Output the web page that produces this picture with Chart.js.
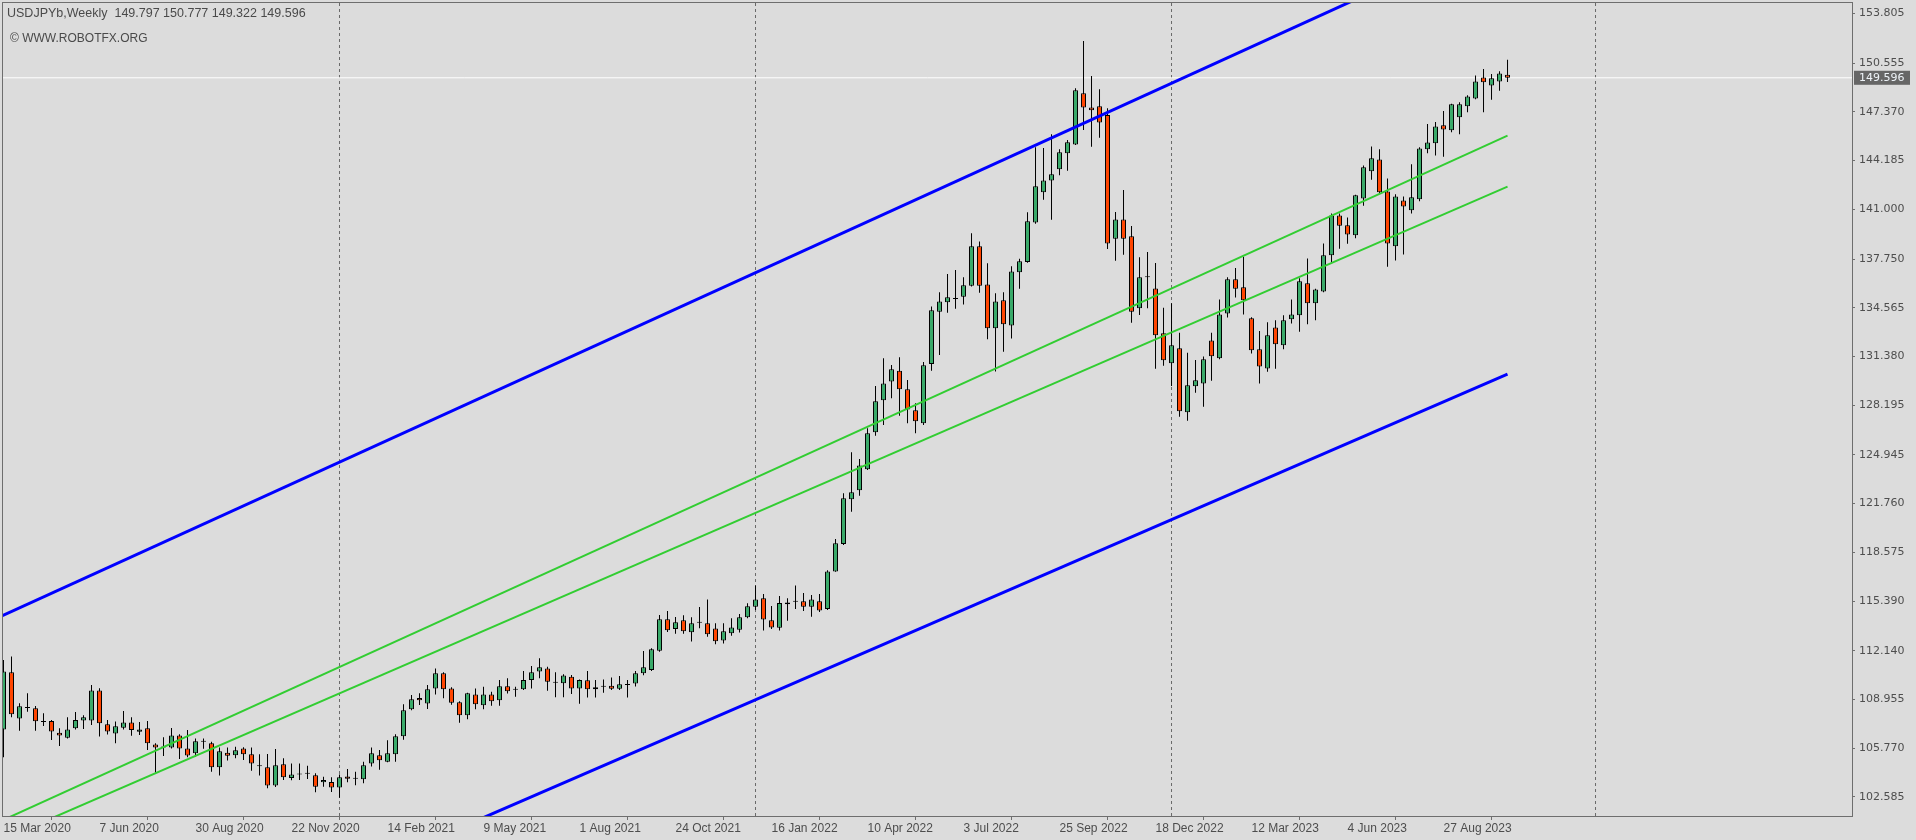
<!DOCTYPE html>
<html lang="en">
<head>
<meta charset="UTF-8">
<title>USDJPYb, Weekly</title>
<script src="https://cdn.jsdelivr.net/npm/chart.js@4.4.1/dist/chart.umd.min.js"></script>
<style>
    html, body {
        margin: 0;
        padding: 0;
        background: #dcdcdc;
    }
    .chart-box {
        width: 1916px;
        height: 840px;
        position: relative;
    }
</style>
</head>
<body>
<div class="chart-box"><canvas id="chart"></canvas></div>
<script>
const symbol = 'USDJPYb,Weekly';
const watermark = '\u00A9 WWW.ROBOTFX.ORG';

// one weekly bar per entry, first bar = week of 15 Mar 2020
const opens = [
    107.00, 110.73, 107.72, 108.45, 108.38, 107.53, 107.55, 106.79, 106.46, 107.07,
    107.59, 107.59, 109.55, 107.33, 106.74, 107.11, 107.46, 106.85, 107.07, 106.02,
    105.81, 105.81, 106.61, 105.76, 105.44, 106.22, 106.09, 104.52, 105.48, 105.31,
    105.76, 105.37, 104.63, 104.52, 103.34, 104.72, 103.83, 104.05, 104.10, 104.00,
    103.54, 103.56, 103.21, 103.93, 103.78, 103.74, 104.78, 105.31, 104.89, 105.37,
    106.55, 108.31, 109.05, 108.70, 109.68, 110.67, 109.68, 108.77, 107.92, 109.29,
    108.58, 109.29, 108.90, 109.82, 109.59, 109.62, 110.23, 110.78, 110.99, 110.06,
    110.01, 110.45, 109.68, 110.21, 109.62, 109.79, 109.86, 109.66, 109.90, 110.00,
    110.67, 110.88, 112.15, 114.20, 113.57, 114.13, 113.35, 113.98, 113.94, 113.59,
    112.82, 113.28, 113.52, 114.33, 115.02, 115.57, 114.13, 113.65, 115.30, 115.35,
    115.37, 115.02, 115.37, 114.87, 117.33, 119.12, 122.04, 122.63, 124.00, 126.42,
    128.51, 129.75, 130.45, 129.23, 127.86, 127.01, 130.89, 134.31, 134.92, 135.14,
    135.28, 136.01, 138.58, 136.09, 133.22, 135.05, 133.41, 136.88, 137.55, 140.13,
    142.11, 142.89, 143.61, 144.66, 145.24, 148.58, 147.66, 147.73, 147.16, 139.08,
    140.34, 139.23, 134.53, 136.55, 135.83, 132.89, 130.93, 131.91, 127.73, 129.43,
    129.62, 132.43, 131.26, 134.18, 136.42, 135.90, 133.87, 131.85, 130.60, 133.28,
    132.11, 133.81, 134.07, 136.16, 134.85, 135.63, 137.99, 140.60, 139.95, 139.30,
    141.71, 143.48, 144.26, 142.17, 138.58, 141.58, 140.93, 141.65, 144.92, 145.31,
    146.49, 146.16, 147.01, 147.73, 148.25, 149.62, 149.10, 149.36, 149.797
];
const highs = [
    111.54, 111.76, 108.71, 109.36, 108.53, 108.05, 107.62, 107.07, 107.79, 108.14,
    107.92, 109.90, 109.69, 107.62, 107.51, 108.20, 107.79, 107.48, 107.55, 106.09,
    106.48, 107.09, 106.68, 106.96, 106.40, 106.40, 106.20, 105.81, 105.81, 105.87,
    105.83, 105.81, 105.37, 105.40, 105.72, 105.11, 104.78, 104.78, 104.63, 104.13,
    103.91, 103.87, 104.06, 104.41, 104.24, 104.89, 105.81, 105.65, 106.29, 106.68,
    108.64, 109.25, 109.36, 109.90, 110.99, 110.73, 109.75, 108.84, 109.40, 109.68,
    109.79, 109.47, 110.23, 110.34, 109.79, 110.82, 111.14, 111.65, 111.10, 110.73,
    110.60, 110.56, 110.27, 110.82, 110.23, 110.27, 110.40, 110.49, 110.23, 110.82,
    112.13, 112.30, 114.48, 114.74, 114.35, 114.46, 114.33, 115.00, 115.50, 113.94,
    113.94, 114.26, 114.55, 115.24, 116.40, 115.85, 115.07, 115.72, 115.57, 116.40,
    115.92, 115.79, 115.85, 117.40, 119.45, 122.43, 125.11, 124.68, 126.68, 129.45,
    131.26, 130.82, 131.32, 129.84, 128.32, 131.02, 134.64, 135.57, 136.77, 137.03,
    136.55, 139.43, 138.90, 137.47, 135.51, 135.57, 137.27, 137.77, 140.80, 145.05,
    145.00, 145.90, 144.92, 145.53, 148.91, 152.00, 149.71, 148.84, 147.60, 140.82,
    142.26, 139.91, 137.86, 138.21, 137.49, 134.57, 134.85, 132.93, 131.63, 131.15,
    131.37, 132.93, 135.11, 136.55, 137.16, 137.90, 133.95, 133.04, 133.61, 133.74,
    134.07, 135.11, 136.49, 137.79, 135.80, 138.77, 140.73, 140.73, 140.47, 141.95,
    143.87, 145.11, 144.92, 143.02, 141.98, 141.84, 143.94, 145.05, 146.57, 146.70,
    147.42, 147.90, 147.99, 148.45, 149.75, 150.17, 149.84, 150.02, 150.777
];
const lows = [
    105.18, 107.79, 106.92, 108.16, 106.92, 107.22, 106.31, 105.92, 106.40, 107.00,
    107.03, 107.29, 106.53, 106.66, 106.09, 107.00, 106.59, 106.64, 105.66, 104.17,
    105.26, 105.76, 105.07, 105.18, 105.22, 105.74, 104.24, 103.98, 104.96, 105.11,
    105.00, 104.30, 103.98, 103.15, 103.24, 103.69, 103.67, 103.69, 103.76, 102.89,
    103.26, 102.91, 102.54, 103.54, 103.35, 103.48, 104.57, 104.37, 104.85, 104.89,
    106.33, 108.25, 108.60, 108.33, 109.29, 109.03, 108.62, 107.44, 107.66, 108.31,
    108.31, 108.55, 108.55, 109.34, 109.14, 109.58, 109.68, 110.34, 109.53, 109.10,
    109.10, 109.32, 108.68, 109.08, 109.08, 109.40, 109.58, 109.58, 109.08, 109.80,
    110.54, 110.82, 112.08, 113.37, 113.26, 113.26, 112.74, 113.61, 113.06, 112.56,
    112.61, 113.13, 113.33, 114.26, 114.81, 113.46, 113.57, 113.46, 114.11, 114.87,
    114.74, 114.37, 114.68, 114.81, 117.30, 119.06, 121.23, 122.28, 123.96, 126.20,
    126.90, 128.64, 127.51, 127.01, 126.36, 126.90, 130.45, 131.48, 134.24, 134.50,
    134.77, 135.95, 135.55, 132.50, 130.39, 131.69, 132.56, 135.81, 137.51, 140.06,
    141.63, 140.32, 143.22, 143.52, 145.20, 146.18, 145.09, 145.68, 138.40, 137.64,
    138.03, 133.59, 134.09, 134.53, 130.58, 130.78, 129.45, 127.44, 127.18, 129.01,
    128.10, 129.80, 131.20, 133.92, 135.24, 134.13, 131.58, 129.62, 130.38, 130.58,
    131.85, 133.54, 133.00, 133.48, 133.74, 135.58, 137.53, 138.42, 138.75, 139.10,
    141.23, 142.93, 142.05, 137.25, 137.66, 138.05, 140.73, 141.52, 144.66, 144.52,
    144.44, 146.03, 145.90, 147.34, 148.20, 147.34, 148.16, 148.75, 149.322
];
const closes = [
    110.78, 107.99, 108.51, 108.40, 107.53, 107.48, 106.87, 106.61, 107.00, 107.62,
    107.79, 109.55, 107.40, 106.87, 107.20, 107.46, 106.96, 107.00, 106.09, 105.81,
    105.89, 106.61, 105.76, 105.30, 106.22, 106.20, 104.52, 105.57, 105.28, 105.63,
    105.37, 104.78, 104.60, 103.34, 104.65, 103.87, 104.06, 104.07, 104.12, 103.26,
    103.69, 103.21, 103.87, 103.78, 103.80, 104.65, 105.44, 104.98, 105.44, 106.55,
    108.25, 108.97, 108.90, 109.62, 110.67, 109.62, 108.75, 107.92, 109.36, 108.64,
    109.29, 108.84, 109.82, 109.49, 109.62, 110.23, 110.73, 111.06, 110.12, 110.05,
    110.52, 109.68, 110.23, 109.62, 109.75, 109.80, 109.66, 109.95, 109.92, 110.67,
    111.06, 112.24, 114.20, 113.48, 114.00, 113.41, 113.94, 114.00, 113.22, 112.76,
    113.41, 113.67, 114.33, 115.05, 115.50, 114.18, 113.67, 115.26, 115.18, 115.34,
    115.02, 115.50, 114.78, 117.33, 119.17, 122.11, 122.50, 124.26, 126.36, 128.45,
    129.62, 130.54, 129.23, 127.92, 127.14, 130.80, 134.40, 134.98, 135.25, 135.13,
    136.03, 138.58, 136.01, 133.22, 134.98, 133.48, 136.94, 137.60, 140.22, 142.50,
    142.89, 143.29, 144.73, 145.38, 148.78, 147.66, 147.47, 146.68, 138.77, 140.34,
    139.08, 134.31, 136.55, 136.60, 132.76, 131.13, 132.11, 127.79, 129.49, 129.82,
    131.19, 131.39, 134.13, 136.42, 135.81, 135.05, 131.78, 130.73, 132.76, 132.17,
    133.74, 134.13, 136.29, 134.85, 135.76, 137.99, 140.60, 139.93, 139.36, 141.91,
    143.74, 144.33, 142.11, 138.77, 141.84, 141.19, 141.78, 144.98, 145.37, 146.42,
    146.22, 147.86, 147.86, 148.38, 149.36, 149.30, 149.56, 149.88, 149.596
];

// price scale labels as printed on the right axis
const priceTicks = [
    102.585, 105.770, 108.955, 112.140, 115.390, 118.575, 121.760, 124.945,
    128.195, 131.380, 134.565, 137.750, 141.000, 144.185, 147.370, 150.555, 153.805
];
// time scale labels, one every 12 bars
const dateLabels = [
    '15 Mar 2020', '7 Jun 2020', '30 Aug 2020', '22 Nov 2020', '14 Feb 2021', '9 May 2021',
    '1 Aug 2021', '24 Oct 2021', '16 Jan 2022', '10 Apr 2022', '3 Jul 2022', '25 Sep 2022',
    '18 Dec 2022', '12 Mar 2023', '4 Jun 2023', '27 Aug 2023'
];

// channel lines: price at bar -1 and at the last bar
const lineBars = [-1, 188];
const upperBlue = [114.23, 159.24];
const lowerBlue = [87.42, 130.23];
const upperGreen = [100.85, 145.81];
const lowerGreen = [99.60, 142.48];

const lastBar = opens.length - 1;
const barIdx = opens.map((_, i) => i);
const xTicks = dateLabels.map((_, k) => k * 12);

// first bar of every new year, up to the right edge of the window
const yearStarts = [];
for (let i = 1; i < 232; i++) {
    const d0 = new Date(2020, 2, 15 + 7 * (i - 1));
    const d1 = new Date(2020, 2, 15 + 7 * i);
    if (d1.getFullYear() !== d0.getFullYear()) yearStarts.push(i);
}

const green = '#3aaa6a';
const red = '#ff4500';

function channel(vals, color, width) {
    return {
        type: 'line',
        data: lineBars.map((x, k) => ({x: x, y: vals[k]})),
        borderColor: color,
        borderWidth: width,
        pointRadius: 0,
        tension: 0,
        clip: 0,
        order: 0
    };
}

// no label overhang padding, the chart area is fixed
function noPad(s) {
    s.paddingTop = 0;
    s.paddingBottom = 0;
    s.paddingLeft = 0;
    s.paddingRight = 0;
}

const mt4Frame = {
    id: 'mt4Frame',
    beforeDatasetsDraw(chart) {
        const {ctx, chartArea: a, scales: {x}} = chart;
        ctx.save();
        ctx.beginPath();
        ctx.rect(a.left, a.top, a.right - a.left, a.bottom - a.top);
        ctx.clip();
        ctx.strokeStyle = '#6a6a6a';
        ctx.lineWidth = 1;
        ctx.setLineDash([3, 3]);
        yearStarts.forEach(i => {
            const px = x.getPixelForValue(i);
            ctx.beginPath();
            ctx.moveTo(px, a.top);
            ctx.lineTo(px, a.bottom);
            ctx.stroke();
        });
        ctx.restore();
    },
    afterDraw(chart) {
        const {ctx, chartArea: a, scales: {y}} = chart;
        ctx.save();
        ctx.strokeStyle = '#6e6e6e';
        ctx.lineWidth = 1;
        ctx.strokeRect(a.left - 0.5, a.top - 0.5, a.right - a.left + 1, a.bottom - a.top + 1);

        ctx.fillStyle = '#4a4a4a';
        ctx.font = '12.5px "Liberation Sans"';
        ctx.textBaseline = 'middle';
        ctx.textAlign = 'left';
        const head = symbol + '  ' + [opens, highs, lows, closes]
            .map(s => s[lastBar].toFixed(3)).join(' ');
        ctx.fillText(head, 7, 14);
        ctx.font = '12px "Liberation Sans"';
        ctx.fillText(watermark, 10, 38.5);

        // last price tag on the price scale
        const py = y.getPixelForValue(closes[lastBar]);
        ctx.fillStyle = '#666666';
        ctx.fillRect(a.right + 2, py - 7, 56, 14);
        ctx.fillStyle = '#eef3f8';
        ctx.font = '11px "DejaVu Sans"';
        ctx.fillText(closes[lastBar].toFixed(3), a.right + 7, py + 0.5);
        ctx.restore();
    }
};

new Chart(document.getElementById('chart'), {
    type: 'bar',
    data: {
        datasets: [
            channel(upperBlue, '#0000ff', 3),
            channel(lowerBlue, '#0000ff', 3),
            channel(upperGreen, '#32cd32', 2),
            channel(lowerGreen, '#32cd32', 2),
            {
                type: 'bar',
                data: barIdx.map(i => ({x: i, y: [opens[i], closes[i]]})),
                backgroundColor: barIdx.map(i => closes[i] >= opens[i] ? green : red),
                borderColor: '#000000',
                borderWidth: 1,
                borderSkipped: false,
                barThickness: 5,
                minBarLength: 1,
                inflateAmount: 0,
                grouped: false,
                order: 1
            },
            {
                type: 'bar',
                data: barIdx.map(i => ({x: i, y: [lows[i], highs[i]]})),
                backgroundColor: '#000000',
                borderWidth: 0,
                barThickness: 1,
                inflateAmount: 0,
                grouped: false,
                order: 2
            },
            {
                type: 'line',
                data: [{x: -1, y: closes[lastBar]}, {x: 240, y: closes[lastBar]}],
                borderColor: '#ffffff',
                borderWidth: 1,
                pointRadius: 0,
                clip: 0,
                order: 3
            }
        ]
    },
    options: {
        responsive: true,
        maintainAspectRatio: false,
        animation: false,
        events: [],
        layout: {padding: {left: 3, top: 3, right: 0, bottom: 0}},
        plugins: {legend: {display: false}, tooltip: {enabled: false}},
        scales: {
            x: {
                type: 'linear',
                min: -0.0625,
                max: 231.06,
                offset: false,
                bounds: 'data',
                border: {display: false},
                grid: {drawOnChartArea: false, drawTicks: true, tickLength: 4, color: '#6e6e6e'},
                afterBuildTicks: s => { s.ticks = xTicks.map(v => ({value: v})); },
                afterFit: s => { s.height = 24; noPad(s); },
                ticks: {
                    autoSkip: false,
                    maxRotation: 0,
                    align: 'start',
                    padding: 1,
                    color: '#4d4d4d',
                    font: {family: 'Liberation Sans', size: 12},
                    callback: v => dateLabels[xTicks.indexOf(v)]
                }
            },
            y: {
                type: 'linear',
                position: 'right',
                min: 101.34,
                max: 154.485,
                bounds: 'data',
                border: {display: false},
                grid: {drawOnChartArea: false, drawTicks: true, tickLength: 3, color: '#6e6e6e'},
                afterBuildTicks: s => { s.ticks = priceTicks.map(v => ({value: v})); },
                afterFit: s => { s.width = 64; noPad(s); },
                ticks: {
                    autoSkip: false,
                    padding: 4,
                    color: '#4e4e4e',
                    font: {family: 'DejaVu Sans', size: 11},
                    callback: v => v.toFixed(3)
                }
            }
        }
    },
    plugins: [mt4Frame]
});
</script>
</body>
</html>
